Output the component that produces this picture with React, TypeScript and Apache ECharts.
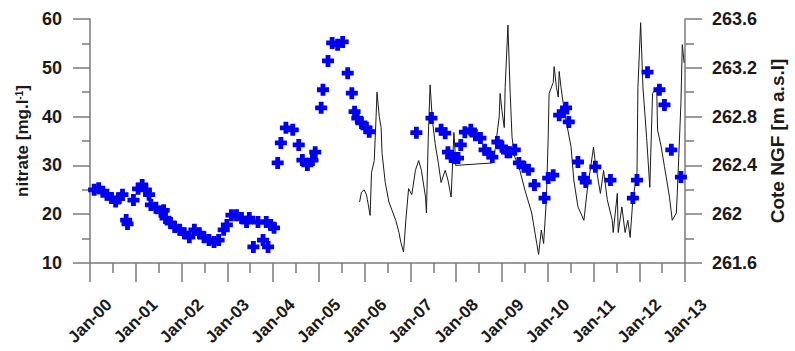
import React, { useEffect, useRef } from "react";
import * as echarts from "echarts";

const nitrateYears = [
  2000.09, 2000.19, 2000.28, 2000.37, 2000.47, 2000.56, 2000.62, 2000.71, 2000.79, 2000.82,
  2000.95, 2001.05, 2001.14, 2001.22, 2001.29, 2001.33, 2001.44, 2001.55, 2001.61, 2001.65,
  2001.76, 2001.85, 2001.96, 2002.06, 2002.17, 2002.28, 2002.39, 2002.49, 2002.6, 2002.71,
  2002.81, 2002.92, 2002.99, 2003.09, 2003.2, 2003.31, 2003.42, 2003.48, 2003.57, 2003.67,
  2003.78, 2003.85, 2003.89, 2003.95, 2004.02, 2004.1, 2004.17, 2004.28, 2004.43, 2004.56,
  2004.64, 2004.75, 2004.86, 2004.92, 2005.05, 2005.09, 2005.2, 2005.29, 2005.41, 2005.52,
  2005.63, 2005.72, 2005.78, 2005.84, 2005.93, 2006.04, 2006.1, 2007.13, 2007.46, 2007.67,
  2007.76, 2007.82, 2007.89, 2007.97, 2008.04, 2008.1, 2008.19, 2008.32, 2008.42, 2008.53,
  2008.62, 2008.72, 2008.79, 2008.9, 2009.0, 2009.11, 2009.17, 2009.28, 2009.37, 2009.48,
  2009.58, 2009.71, 2009.93, 2010.01, 2010.12, 2010.25, 2010.34, 2010.4, 2010.46, 2010.66,
  2010.79, 2010.83, 2011.04, 2011.37, 2011.86, 2011.95, 2012.18, 2012.44, 2012.55, 2012.7,
  2012.91,
];
const nitrateValues = [
  25.0, 25.3, 24.6, 24.0, 23.3, 22.6, 23.2, 24.0, 18.8, 18.0,
  22.9, 25.2, 26.0, 25.0, 24.0, 21.9, 21.3, 20.5, 20.8, 19.2,
  18.2, 17.4, 16.8, 16.1, 15.3, 16.8, 16.1, 15.3, 14.7, 14.3,
  14.7, 16.8, 17.8, 19.8, 19.8, 19.2, 18.4, 19.2, 13.3, 18.4,
  14.7, 18.4, 13.3, 17.8, 17.2, 30.5, 34.6, 37.7, 37.3, 34.2,
  31.1, 30.1, 31.1, 32.7, 41.8, 45.5, 51.4, 55.1, 54.7, 55.3,
  48.9, 44.8, 41.0, 39.7, 38.7, 37.7, 36.9, 36.7, 39.7, 37.3,
  36.6, 32.7, 31.7, 31.5, 31.5, 34.2, 36.8, 37.3, 36.2, 35.6,
  33.2, 32.5, 31.7, 34.8, 33.8, 32.7, 32.7, 33.2, 30.5, 29.7,
  29.1, 26.0, 23.3, 27.4, 28.0, 40.3, 40.9, 41.8, 38.9, 30.7,
  27.4, 26.6, 29.7, 27.0, 23.3, 27.0, 49.1, 45.5, 42.4, 33.2,
  27.6,
];

const levelYears = [
  2005.89, 2005.93, 2005.99, 2006.04, 2006.06, 2006.12, 2006.15, 2006.21, 2006.25, 2006.27,
  2006.32, 2006.36, 2006.38, 2006.45, 2006.53, 2006.6, 2006.68, 2006.75, 2006.79, 2006.85,
  2006.9, 2006.96, 2007.03, 2007.11, 2007.18, 2007.24, 2007.33, 2007.35, 2007.39, 2007.43,
  2007.48, 2007.54, 2007.61, 2007.67, 2007.76, 2007.82, 2007.89, 2007.95, 2007.97, 2007.99,
  2008.79, 2008.85, 2008.94, 2008.96, 2009.0, 2009.05, 2009.07, 2009.13, 2009.18, 2009.22,
  2009.28, 2009.39, 2009.5, 2009.65, 2009.76, 2009.8, 2009.86, 2009.91, 2009.97, 2010.01,
  2010.03, 2010.12, 2010.14, 2010.19, 2010.23, 2010.25, 2010.29, 2010.36, 2010.44, 2010.51,
  2010.57, 2010.66, 2010.72, 2010.79, 2010.87, 2010.94, 2011.0, 2011.04, 2011.15, 2011.22,
  2011.3, 2011.41, 2011.43, 2011.52, 2011.54, 2011.62, 2011.69, 2011.75, 2011.8, 2011.86,
  2011.95, 2011.97, 2012.03, 2012.08, 2012.16, 2012.23, 2012.29, 2012.38, 2012.4, 2012.48,
  2012.55, 2012.66, 2012.72, 2012.81, 2012.83, 2012.91, 2012.94, 2012.98,
];
const levelValues = [
  262.1, 262.18, 262.2, 262.16, 262.12, 261.99, 262.34, 262.44, 262.8, 263.0,
  262.8, 262.71, 262.5, 262.26, 262.1, 262.03, 261.95, 261.85, 261.77, 261.69,
  261.95, 262.21, 262.16, 262.36, 262.44, 262.36, 262.14, 262.01, 262.63, 263.06,
  262.77, 262.58, 262.42, 262.26, 262.36, 262.28, 262.14, 262.67, 262.55, 262.4,
  262.42, 262.53, 262.8, 262.99, 262.85, 262.71, 263.04, 263.55, 262.99, 262.63,
  262.47, 262.36, 262.2, 262.01, 261.76, 261.67, 261.87, 261.76, 262.12, 262.63,
  262.99, 263.08, 263.21, 263.04, 262.96, 263.17, 263.04, 262.85, 262.69, 262.55,
  262.28, 262.06, 262.01, 261.95, 262.22, 262.39, 262.55, 262.42, 262.17, 262.36,
  262.12, 261.95, 261.85, 262.17, 261.85, 262.06, 261.85, 261.95, 261.81, 262.12,
  262.34, 263.04, 263.57, 263.04, 262.63, 262.22, 262.99, 263.04, 262.69, 262.55,
  262.39, 262.14, 261.95, 262.01, 262.17, 262.91, 263.39, 263.24,
];

const FONT = "'Liberation Sans', Arial, sans-serif";
const AXIS_GRAY = "#7a7a7a";
const CROSS = "path://M3,0H7V3H10V7H7V10H3V7H0V3H3Z";

export default function App() {
  const ref = useRef<HTMLDivElement>(null);
  useEffect(() => {
    if (!ref.current) return;
    const chart = echarts.init(ref.current, undefined, { renderer: "svg" });
    const labelStyle = { color: "#1a1a1a", fontFamily: FONT, fontWeight: "bold" as const, fontSize: 18 };
    chart.setOption({
      animation: false,
      backgroundColor: "#fff",
      grid: { left: 90, right: 99, top: 19, bottom: 88, containLabel: false },
      xAxis: {
        type: "value",
        min: 2000,
        max: 2013,
        interval: 1,
        axisLine: { show: true, onZero: false, lineStyle: { color: AXIS_GRAY, width: 1.5 } },
        axisTick: { show: true, length: 19, lineStyle: { color: AXIS_GRAY, width: 1.5 } },
        minorTick: { show: true, splitNumber: 2, length: 10, lineStyle: { color: AXIS_GRAY, width: 1.5 } },
        splitLine: { show: false },
        axisLabel: {
          ...labelStyle,
          fontSize: 17,
          rotate: 45,
          align: "center",
          verticalAlign: "middle",
          margin: 58,
          formatter: (v: number) => "Jan-" + String(Math.round(v) % 100).padStart(2, "0"),
        },
      },
      yAxis: [
        {
          type: "value",
          min: 10,
          max: 60,
          interval: 10,
          position: "left",
          name: "nitrate [mg.l{sup|-1}]",
          nameLocation: "middle",
          nameRotate: 90,
          nameGap: 50,
          nameTextStyle: {
            ...labelStyle,
            fontSize: 17,
            rich: { sup: { fontFamily: FONT, fontWeight: "bold", fontSize: 10, verticalAlign: "top", color: "#1a1a1a" } },
          },
          axisLine: { show: true, lineStyle: { color: AXIS_GRAY, width: 1.5 } },
          axisTick: { show: true, length: 17, lineStyle: { color: AXIS_GRAY, width: 1.5 } },
          minorTick: { show: true, splitNumber: 2, length: 8, lineStyle: { color: AXIS_GRAY, width: 1.5 } },
          splitLine: { show: false },
          axisLabel: { ...labelStyle, margin: 28 },
        },
        {
          type: "value",
          min: 261.6,
          max: 263.6,
          interval: 0.4,
          position: "right",
          name: "Cote NGF [m a.s.l]",
          nameLocation: "middle",
          nameRotate: 90,
          nameGap: 79,
          nameTextStyle: { ...labelStyle, fontSize: 19 },
          axisLine: { show: true, lineStyle: { color: AXIS_GRAY, width: 1.5 } },
          axisTick: { show: true, length: 17, lineStyle: { color: AXIS_GRAY, width: 1.5 } },
          minorTick: { show: true, splitNumber: 2, length: 9, lineStyle: { color: AXIS_GRAY, width: 1.5 } },
          splitLine: { show: false },
          axisLabel: {
            ...labelStyle,
            margin: 27,
            formatter: (v: number) => String(Number(v.toFixed(1))),
          },
        },
      ],
      series: [
        {
          type: "line",
          yAxisIndex: 1,
          data: levelYears.map((y, i) => [y, levelValues[i]]),
          showSymbol: false,
          symbol: "none",
          lineStyle: { color: "#1a1a1a", width: 1 },
          z: 2,
        },
        {
          type: "scatter",
          yAxisIndex: 0,
          data: nitrateYears.map((y, i) => [y, nitrateValues[i]]),
          symbol: CROSS,
          symbolSize: 12,
          itemStyle: { color: "#0000f0", opacity: 1 },
          z: 3,
        },
      ],
    });
    return () => chart.dispose();
  }, []);
  return <div ref={ref} style={{ position: "absolute", left: 0, top: 0, width: 795, height: 351 }} />;
}
